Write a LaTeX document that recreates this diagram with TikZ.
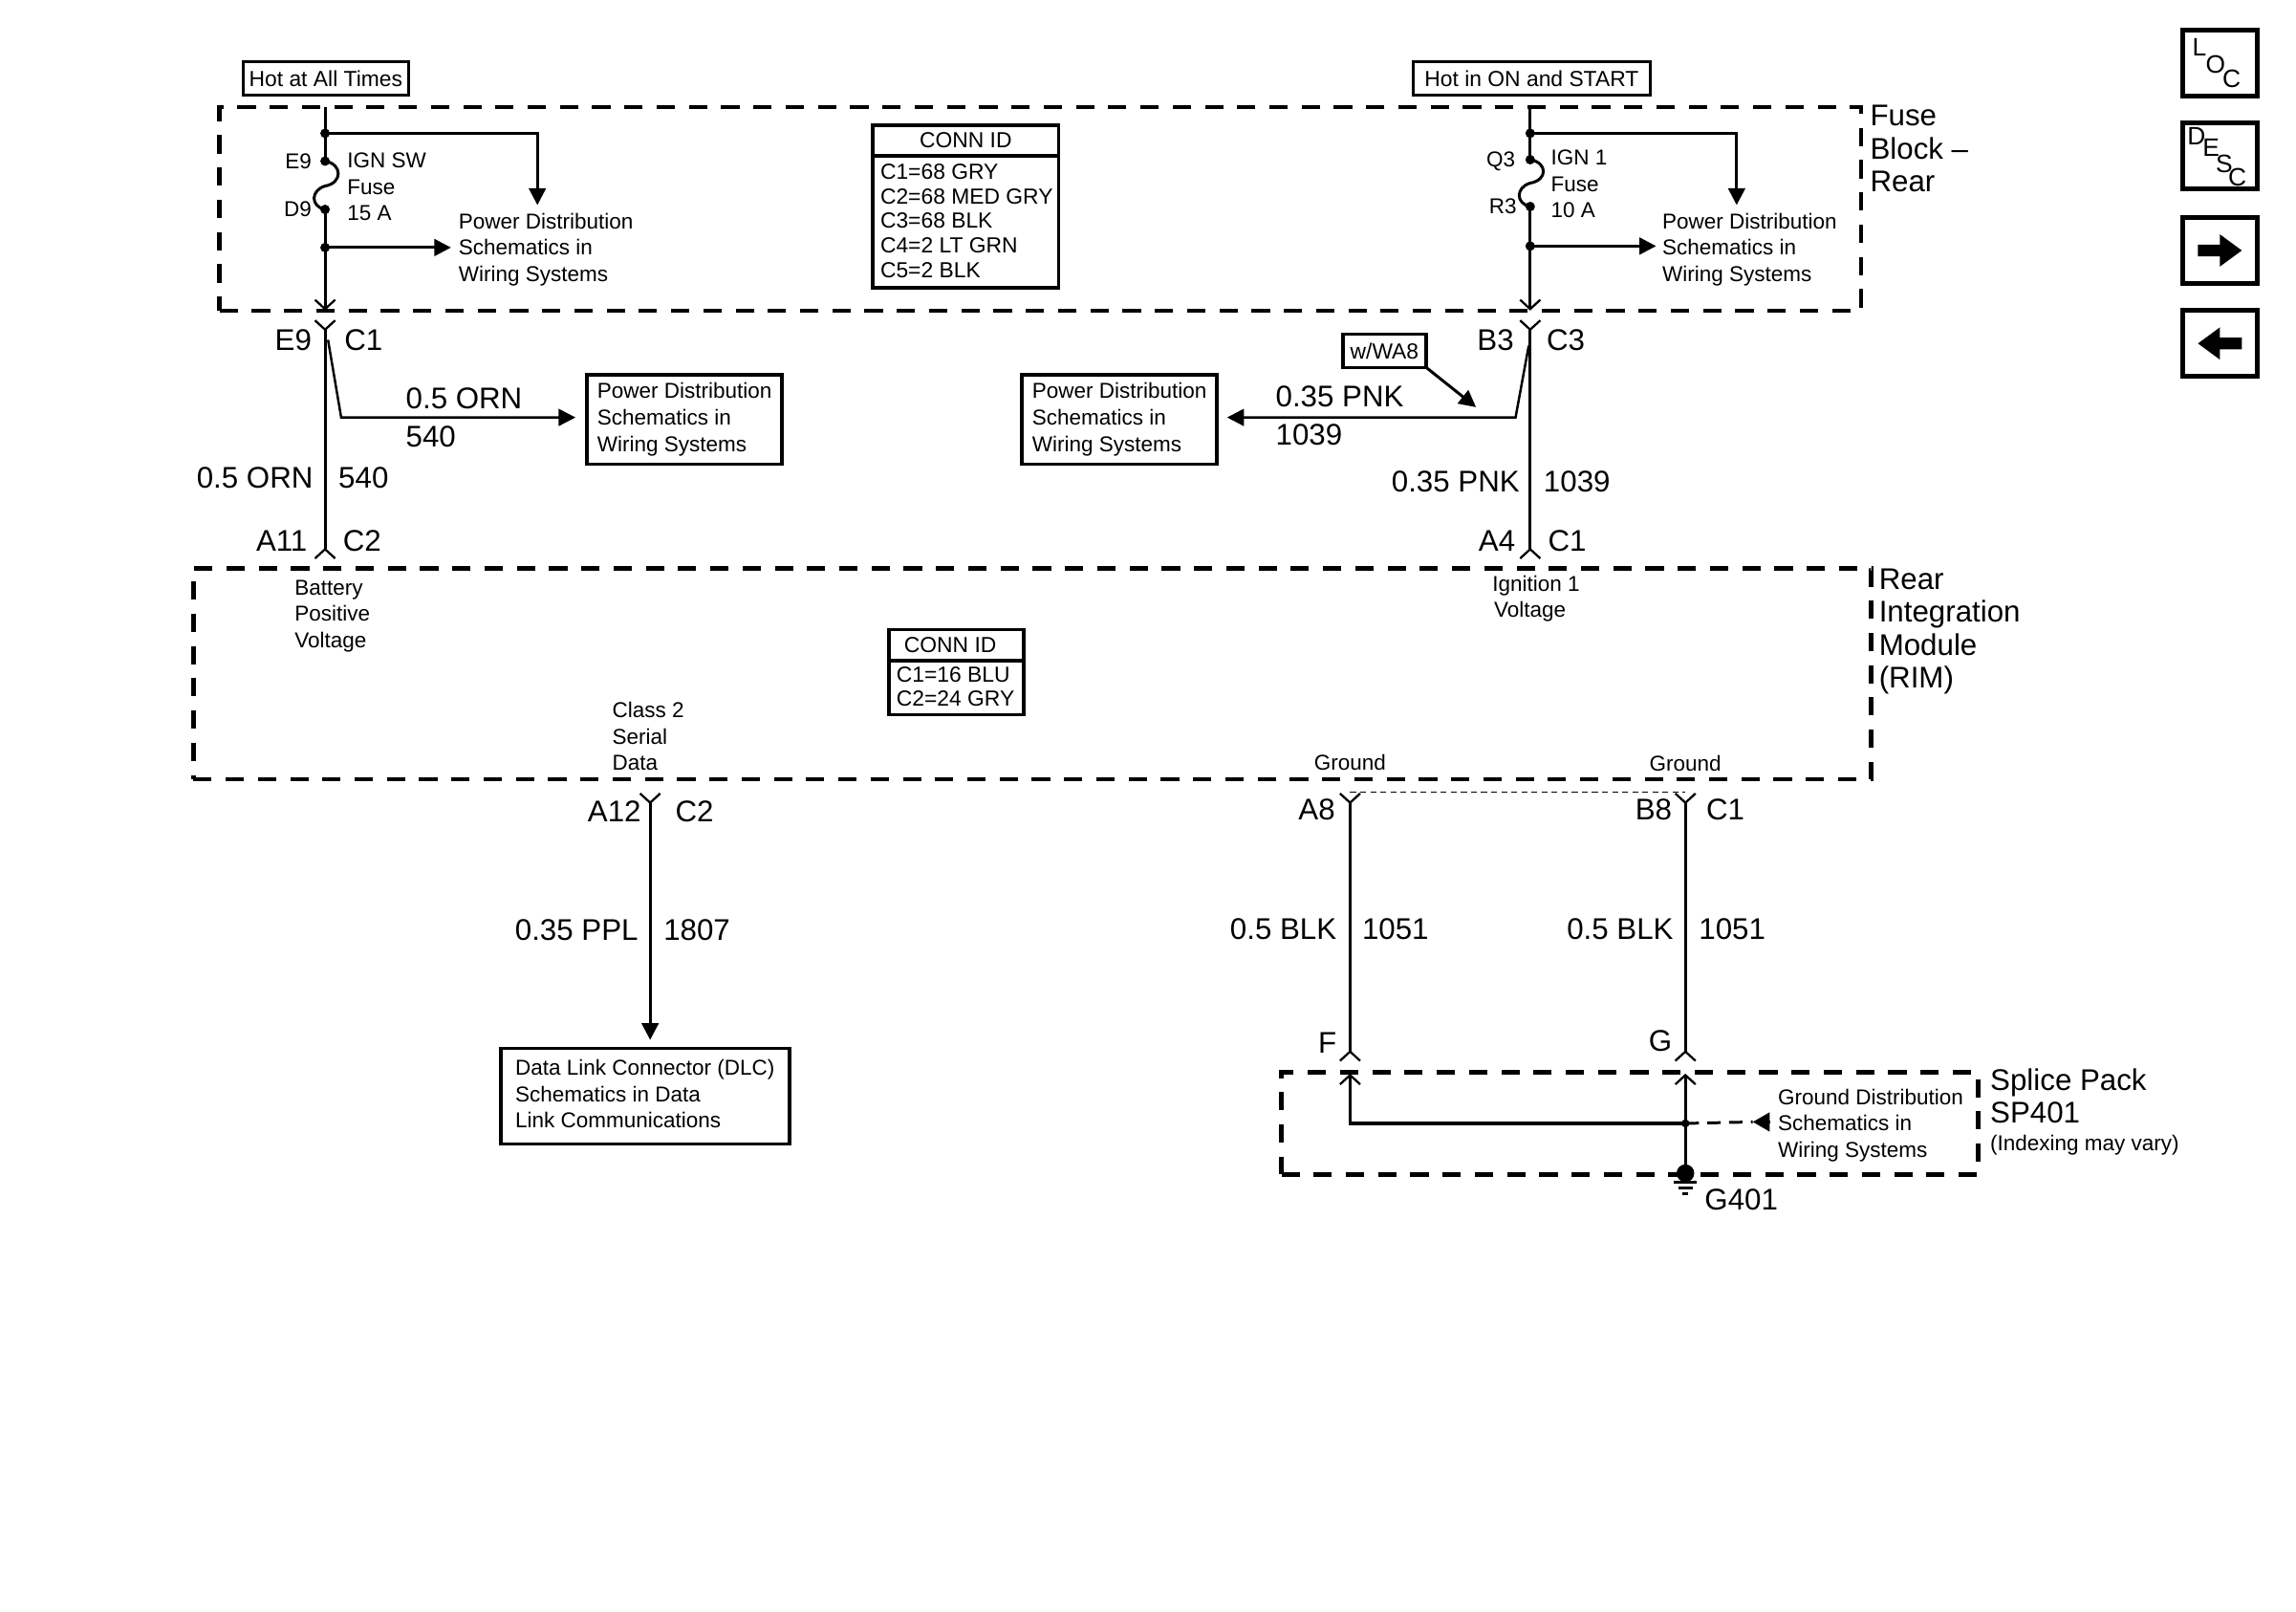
\documentclass[tikz,border=0pt]{standalone}
\usepackage{fontspec}
\setmainfont{Liberation Sans}
\usetikzlibrary{arrows.meta, calc, shapes.geometric}
\tikzstyle{smalltext} = [inner sep=0, font=\fontsize{12.8}{15.7}\selectfont]
\tikzstyle{boxtext} = [inner sep=0, font=\fontsize{13}{14.6}\selectfont]
\tikzstyle{bigtext} = [inner sep=0, font=\fontsize{17.8}{19.6}\selectfont]
\tikzstyle{refbox} = [rectangle, draw=black, line width=2.1pt, inner sep=0, outer sep=0, smalltext]
\tikzstyle{connbox} = [rectangle, draw=black, line width=2.1pt, inner sep=0, outer sep=0, boxtext]
\tikzstyle{dashbox} = [rectangle, draw=black, line width=2.6pt, inner sep=0, dash pattern=on 10.9pt off 8.3pt]
\tikzstyle{iconbox} = [rectangle, draw=black, line width=2.8pt, inner sep=0, minimum width=1.55cm, minimum height=1.38cm]
\tikzstyle{iconletter} = [inner sep=0, font=\fontsize{15}{15}\selectfont]
\tikzstyle{dot} = [circle, fill=black, inner sep=0, minimum size=0.2cm]
\tikzstyle{wire} = [line width=1.7pt, >={Straight Barb[length=5.5pt,width=12pt,line width=1.3pt]}]
\tikzstyle{feed} = [line width=1.7pt, -{Triangle[length=10pt,width=10pt]}]

\begin{document}
\begin{tikzpicture}[x=0.03064cm, y=-0.03064cm]
    \useasboundingbox (0,0) rectangle (1568,1100);

    % Dashed modules
    \node (fuseblock) [dashbox, minimum width=34.35cm, minimum height=4.26cm] at (710.5,142.5) {};
    \node (rim) [dashbox, minimum width=35.11cm, minimum height=4.41cm] at (705,460) {};
    \node (splice) [dashbox, minimum width=14.58cm, minimum height=2.14cm] at (1113,767) {};

    % Top labels
    \node (hotall) [connbox, minimum width=3.46cm, minimum height=0.7cm] at (222.5,53.5) {Hot at All Times};
    \node (hotrun) [connbox, minimum width=4.96cm, minimum height=0.7cm] at (1046,53.5) {Hot in ON and START};
    \node (fusename) [bigtext, anchor=west] at (1277,104) {\begin{tabular}{@{}l@{}}Fuse\\Block --\\Rear\end{tabular}};
    \node (rimname) [bigtext, anchor=west] at (1283,431.5) {\begin{tabular}{@{}l@{}}Rear\\Integration\\Module\\(RIM)\end{tabular}};
    \node (splicename) [bigtext, anchor=west] at (1359,751) {\begin{tabular}{@{}l@{}}Splice Pack\\SP401\end{tabular}};
    \node (indexing) [smalltext, anchor=west] at (1359,782) {(Indexing may vary)};

    % Conn id tables
    \node (connid) [connbox, minimum width=3.89cm, minimum height=0.63cm] at (659.5,96) {CONN ID};
    \node (connidbody) [connbox, anchor=north, minimum width=3.89cm, minimum height=2.76cm] at (connid.south) {};
    \node (connidtext) [boxtext, anchor=west] at (601,152.5) {\begin{tabular}{@{}l@{}}C1=68 GRY\\C2=68 MED GRY\\C3=68 BLK\\C4=2 LT GRN\\C5=2 BLK\end{tabular}};
    \node (rimid) [connbox, minimum width=2.82cm, minimum height=0.65cm] at (653,440.5) {CONN ID\hspace*{7pt}};
    \node (rimidbody) [connbox, anchor=north, minimum width=2.82cm, minimum height=1.13cm] at (rimid.south) {};
    \node (rimidtext) [boxtext, anchor=west] at (612,470.5) {\begin{tabular}{@{}l@{}}C1=16 BLU\\C2=24 GRY\end{tabular}};

    % Left feed, fuse block
    \coordinate (igntop) at (222,73);
    \node (ignjoin) [dot] at (222,91) {};
    \node (ignin) [dot] at (222,110) {};
    \coordinate (ignmid) at (222,127);
    \node (ignout) [dot] at (222,143) {};
    \node (ignsplit) [dot] at (222,169) {};
    \coordinate (ignend) at (222,212);
    \coordinate (igncorner) at (367,91);
    \coordinate (igndown) at (367,140);
    \coordinate (ignright) at (308,169);
    \node (ignintext) [smalltext, anchor=east] at (213,110) {E9};
    \node (ignouttext) [smalltext, anchor=east] at (213,143) {D9};
    \node (ignname) [smalltext, anchor=west] at (237,129) {\begin{tabular}{@{}l@{}}IGN SW\\Fuse\\15 A\end{tabular}};
    \node (ignpd) [smalltext, anchor=west] at (313,170.5) {\begin{tabular}{@{}l@{}}Power Distribution\\Schematics in\\Wiring Systems\end{tabular}};

    \draw [wire] (igntop) -- (ignin.center);
    \draw [wire, ->] (ignout.center) -- (ignend);
    \draw [feed] (ignjoin.center) -- (igncorner) -- (igndown);
    \draw [feed] (ignsplit.center) -- (ignright);
    \draw [wire] (ignin.center) .. controls (234,112) and (234,125) .. (ignmid) .. controls (212,130) and (212,141) .. (ignout.center);

    % Right feed, fuse block
    \coordinate (runtop) at (1045,73);
    \node (runjoin) [dot] at (1045,91) {};
    \node (runin) [dot] at (1045,109) {};
    \coordinate (runmid) at (1045,125);
    \node (runout) [dot] at (1045,141) {};
    \node (runsplit) [dot] at (1045,168) {};
    \coordinate (runend) at (1045,212);
    \coordinate (runcorner) at (1186,91);
    \coordinate (rundown) at (1186,140);
    \coordinate (runright) at (1131,168);
    \node (runintext) [smalltext, anchor=east] at (1035,110) {Q3};
    \node (runouttext) [smalltext, anchor=east] at (1036,141) {R3};
    \node (runname) [smalltext, anchor=west] at (1059,127) {\begin{tabular}{@{}l@{}}IGN 1\\Fuse\\10 A\end{tabular}};
    \node (runpd) [smalltext, anchor=west] at (1135,170.5) {\begin{tabular}{@{}l@{}}Power Distribution\\Schematics in\\Wiring Systems\end{tabular}};

    \draw [wire] (runtop) -- (runin.center);
    \draw [wire, ->] (runout.center) -- (runend);
    \draw [feed] (runjoin.center) -- (runcorner) -- (rundown);
    \draw [feed] (runsplit.center) -- (runright);
    \draw [wire] (runin.center) .. controls (1057,111) and (1057,123) .. (runmid) .. controls (1035,128) and (1035,139) .. (runout.center);

    % Harness between fuse block and rim
    \coordinate (e9top) at (222,218);
    \coordinate (e9end) at (222,382);
    \coordinate (e9tap) at (224,232);
    \coordinate (e9bend) at (233,285);
    \coordinate (e9arrow) at (393,285);
    \coordinate (b3top) at (1045,218);
    \coordinate (b3end) at (1045,382);
    \coordinate (b3tap) at (1044,236);
    \coordinate (b3bend) at (1035,285);
    \coordinate (b3arrow) at (838,285);
    \draw [wire, >-<] (e9top) -- (e9end);
    \draw [wire, >-<] (b3top) -- (b3end);
    \draw [feed, line width=1.4pt] (e9tap) -- (e9bend) -- (e9arrow);
    \draw [feed, line width=1.4pt] (b3tap) -- (b3bend) -- (b3arrow);

    \node (e9pin) [bigtext, anchor=east] at (213,232) {E9};
    \node (e9conn) [bigtext, anchor=west] at (235,232) {C1};
    \node (e9size) [bigtext, anchor=west] at (277,272) {0.5 ORN};
    \node (e9num) [bigtext, anchor=west] at (277,298) {540};
    \node (e9box) [refbox, minimum width=4.08cm, minimum height=1.87cm] at (467.5,286.5) {\begin{tabular}{@{}l@{}}Power Distribution\\Schematics in\\Wiring Systems\end{tabular}};
    \node (a11size) [bigtext, anchor=east] at (214,326) {0.5 ORN};
    \node (a11num) [bigtext, anchor=west] at (231,326) {540};
    \node (a11pin) [bigtext, anchor=east] at (210,369) {A11};
    \node (a11conn) [bigtext, anchor=west] at (234,369) {C2};

    \node (b3pin) [bigtext, anchor=east] at (1034,232) {B3};
    \node (b3conn) [bigtext, anchor=west] at (1056,232) {C3};
    \node (wa8) [connbox, minimum width=1.75cm, minimum height=0.7cm] at (945.5,239.5) {w/WA8};
    \coordinate (wa8arrow) at (1008,278);
    \draw [feed] (wa8.south east) -- (wa8arrow);
    \node (b3size) [bigtext, anchor=west] at (871,271) {0.35 PNK};
    \node (b3num) [bigtext, anchor=west] at (871,297) {1039};
    \node (b3box) [refbox, minimum width=4.08cm, minimum height=1.87cm] at (764.5,286.5) {\begin{tabular}{@{}l@{}}Power Distribution\\Schematics in\\Wiring Systems\end{tabular}};
    \node (a4size) [bigtext, anchor=east] at (1038,329) {0.35 PNK};
    \node (a4num) [bigtext, anchor=west] at (1054,329) {1039};
    \node (a4pin) [bigtext, anchor=east] at (1035,369) {A4};
    \node (a4conn) [bigtext, anchor=west] at (1057,369) {C1};

    % Rim texts
    \node (battery) [smalltext, anchor=west] at (201,420.5) {\begin{tabular}{@{}l@{}}Battery\\Positive\\Voltage\end{tabular}};
    \node (ignition) [smalltext, anchor=west] at (1019,409) {\begin{tabular}{@{}l@{}}Ignition 1\\\hspace*{1pt}Voltage\end{tabular}};
    \node (serial) [smalltext, anchor=west] at (418,504.5) {\begin{tabular}{@{}l@{}}Class 2\\Serial\\Data\end{tabular}};
    \node (grounda) [smalltext] at (922,520.5) {Ground};
    \node (groundb) [smalltext] at (1151,521.5) {Ground};

    % Data line
    \coordinate (a12top) at (444,541);
    \coordinate (a12end) at (444,710);
    \draw [wire, >-{Triangle[length=10pt,width=10pt]}] (a12top) -- (a12end);
    \node (a12pin) [bigtext, anchor=east] at (438,554) {A12};
    \node (a12conn) [bigtext, anchor=west] at (461,554) {C2};
    \node (a12size) [bigtext, anchor=east] at (436,635) {0.35 PPL};
    \node (a12num) [bigtext, anchor=west] at (453,635) {1807};
    \node (dlc) [refbox, minimum width=6.04cm, minimum height=2cm] at (440.5,748.5) {\begin{tabular}{@{}l@{}}Data Link Connector (DLC)\\Schematics in Data\\Link Communications\end{tabular}};

    % Ground lines
    \coordinate (a8top) at (922,541);
    \coordinate (a8end) at (922,725);
    \coordinate (b8top) at (1151,541);
    \coordinate (b8end) at (1151,725);
    \draw [wire, >-<] (a8top) -- (a8end);
    \draw [wire, >-<] (b8top) -- (b8end);
    \draw [line width=0.8pt, dash pattern=on 3.5pt off 2.5pt] (a8top) -- (b8top);
    \node (a8pin) [bigtext, anchor=east] at (912,553) {A8};
    \node (b8pin) [bigtext, anchor=east] at (1142,553) {B8};
    \node (b8conn) [bigtext, anchor=west] at (1165,553) {C1};
    \node (a8size) [bigtext, anchor=east] at (913,634) {0.5 BLK};
    \node (a8num) [bigtext, anchor=west] at (930,634) {1051};
    \node (b8size) [bigtext, anchor=east] at (1143,634) {0.5 BLK};
    \node (b8num) [bigtext, anchor=west] at (1160,634) {1051};
    \node (fpin) [bigtext, anchor=east] at (913,712) {F};
    \node (gpin) [bigtext, anchor=east] at (1142,711) {G};

    % Splice pack
    \coordinate (fin) at (922,733);
    \coordinate (gin) at (1151,733);
    \coordinate (fcorner) at (922,767);
    \node (splicejoin) [dot, minimum size=0.17cm] at (1151,767) {};
    \node (g401dot) [dot, minimum size=0.37cm] at (1151,801) {};
    \coordinate (gndtip) at (1197,766);
    \coordinate (gndtail) at (1208,766);
    \draw [wire, ->] (g401dot.center) -- (gin);
    \draw [wire, ->, line width=2pt] (splicejoin.center) -- (fcorner) -- (fin);
    \draw [line width=1.7pt, dash pattern=on 8pt off 5pt] (splicejoin.center) -- (gndtip);
    \draw [feed, -{Triangle[length=10pt,width=11pt]}] (gndtail) -- (gndtip);
    \node (gndtext) [smalltext, anchor=west] at (1214,768.5) {\begin{tabular}{@{}l@{}}Ground Distribution\\Schematics in\\Wiring Systems\end{tabular}};
    \draw [line width=1.5pt] ($(g401dot)+(-8,6)$) -- ($(g401dot)+(8,6)$);
    \draw [line width=1.5pt] ($(g401dot)+(-5,10)$) -- ($(g401dot)+(5,10)$);
    \draw [line width=1.5pt] ($(g401dot)+(-2,14)$) -- ($(g401dot)+(2,14)$);
    \node (g401) [bigtext, anchor=west] at (1164,819) {G401};

    % Icons
    \node (locbox) [iconbox] at (1516,43) {};
    \node (locl) [iconletter] at (1502,32) {L};
    \node (loco) [iconletter] at (1513,44) {O};
    \node (locc) [iconletter] at (1524,54) {C};
    \node (descbox) [iconbox] at (1516,106.5) {};
    \node (descd) [iconletter] at (1500,93) {D};
    \node (desce) [iconletter] at (1510,101) {E};
    \node (descs) [iconletter] at (1519,112) {S};
    \node (descc) [iconletter] at (1528,121) {C};
    \node (nextbox) [iconbox] at (1516,171) {};
    \node (prevbox) [iconbox] at (1516,234.5) {};
    \fill ($(nextbox)+(-15,-4)$) -- ($(nextbox)+(0,-4)$) -- ($(nextbox)+(0,-11)$) -- ($(nextbox)+(15,0)$) -- ($(nextbox)+(0,11)$) -- ($(nextbox)+(0,4)$) -- ($(nextbox)+(-15,4)$) -- cycle;
    \fill ($(prevbox)+(15,-4)$) -- ($(prevbox)+(0,-4)$) -- ($(prevbox)+(0,-11)$) -- ($(prevbox)+(-15,0)$) -- ($(prevbox)+(0,11)$) -- ($(prevbox)+(0,4)$) -- ($(prevbox)+(15,4)$) -- cycle;
\end{tikzpicture}
\end{document}
